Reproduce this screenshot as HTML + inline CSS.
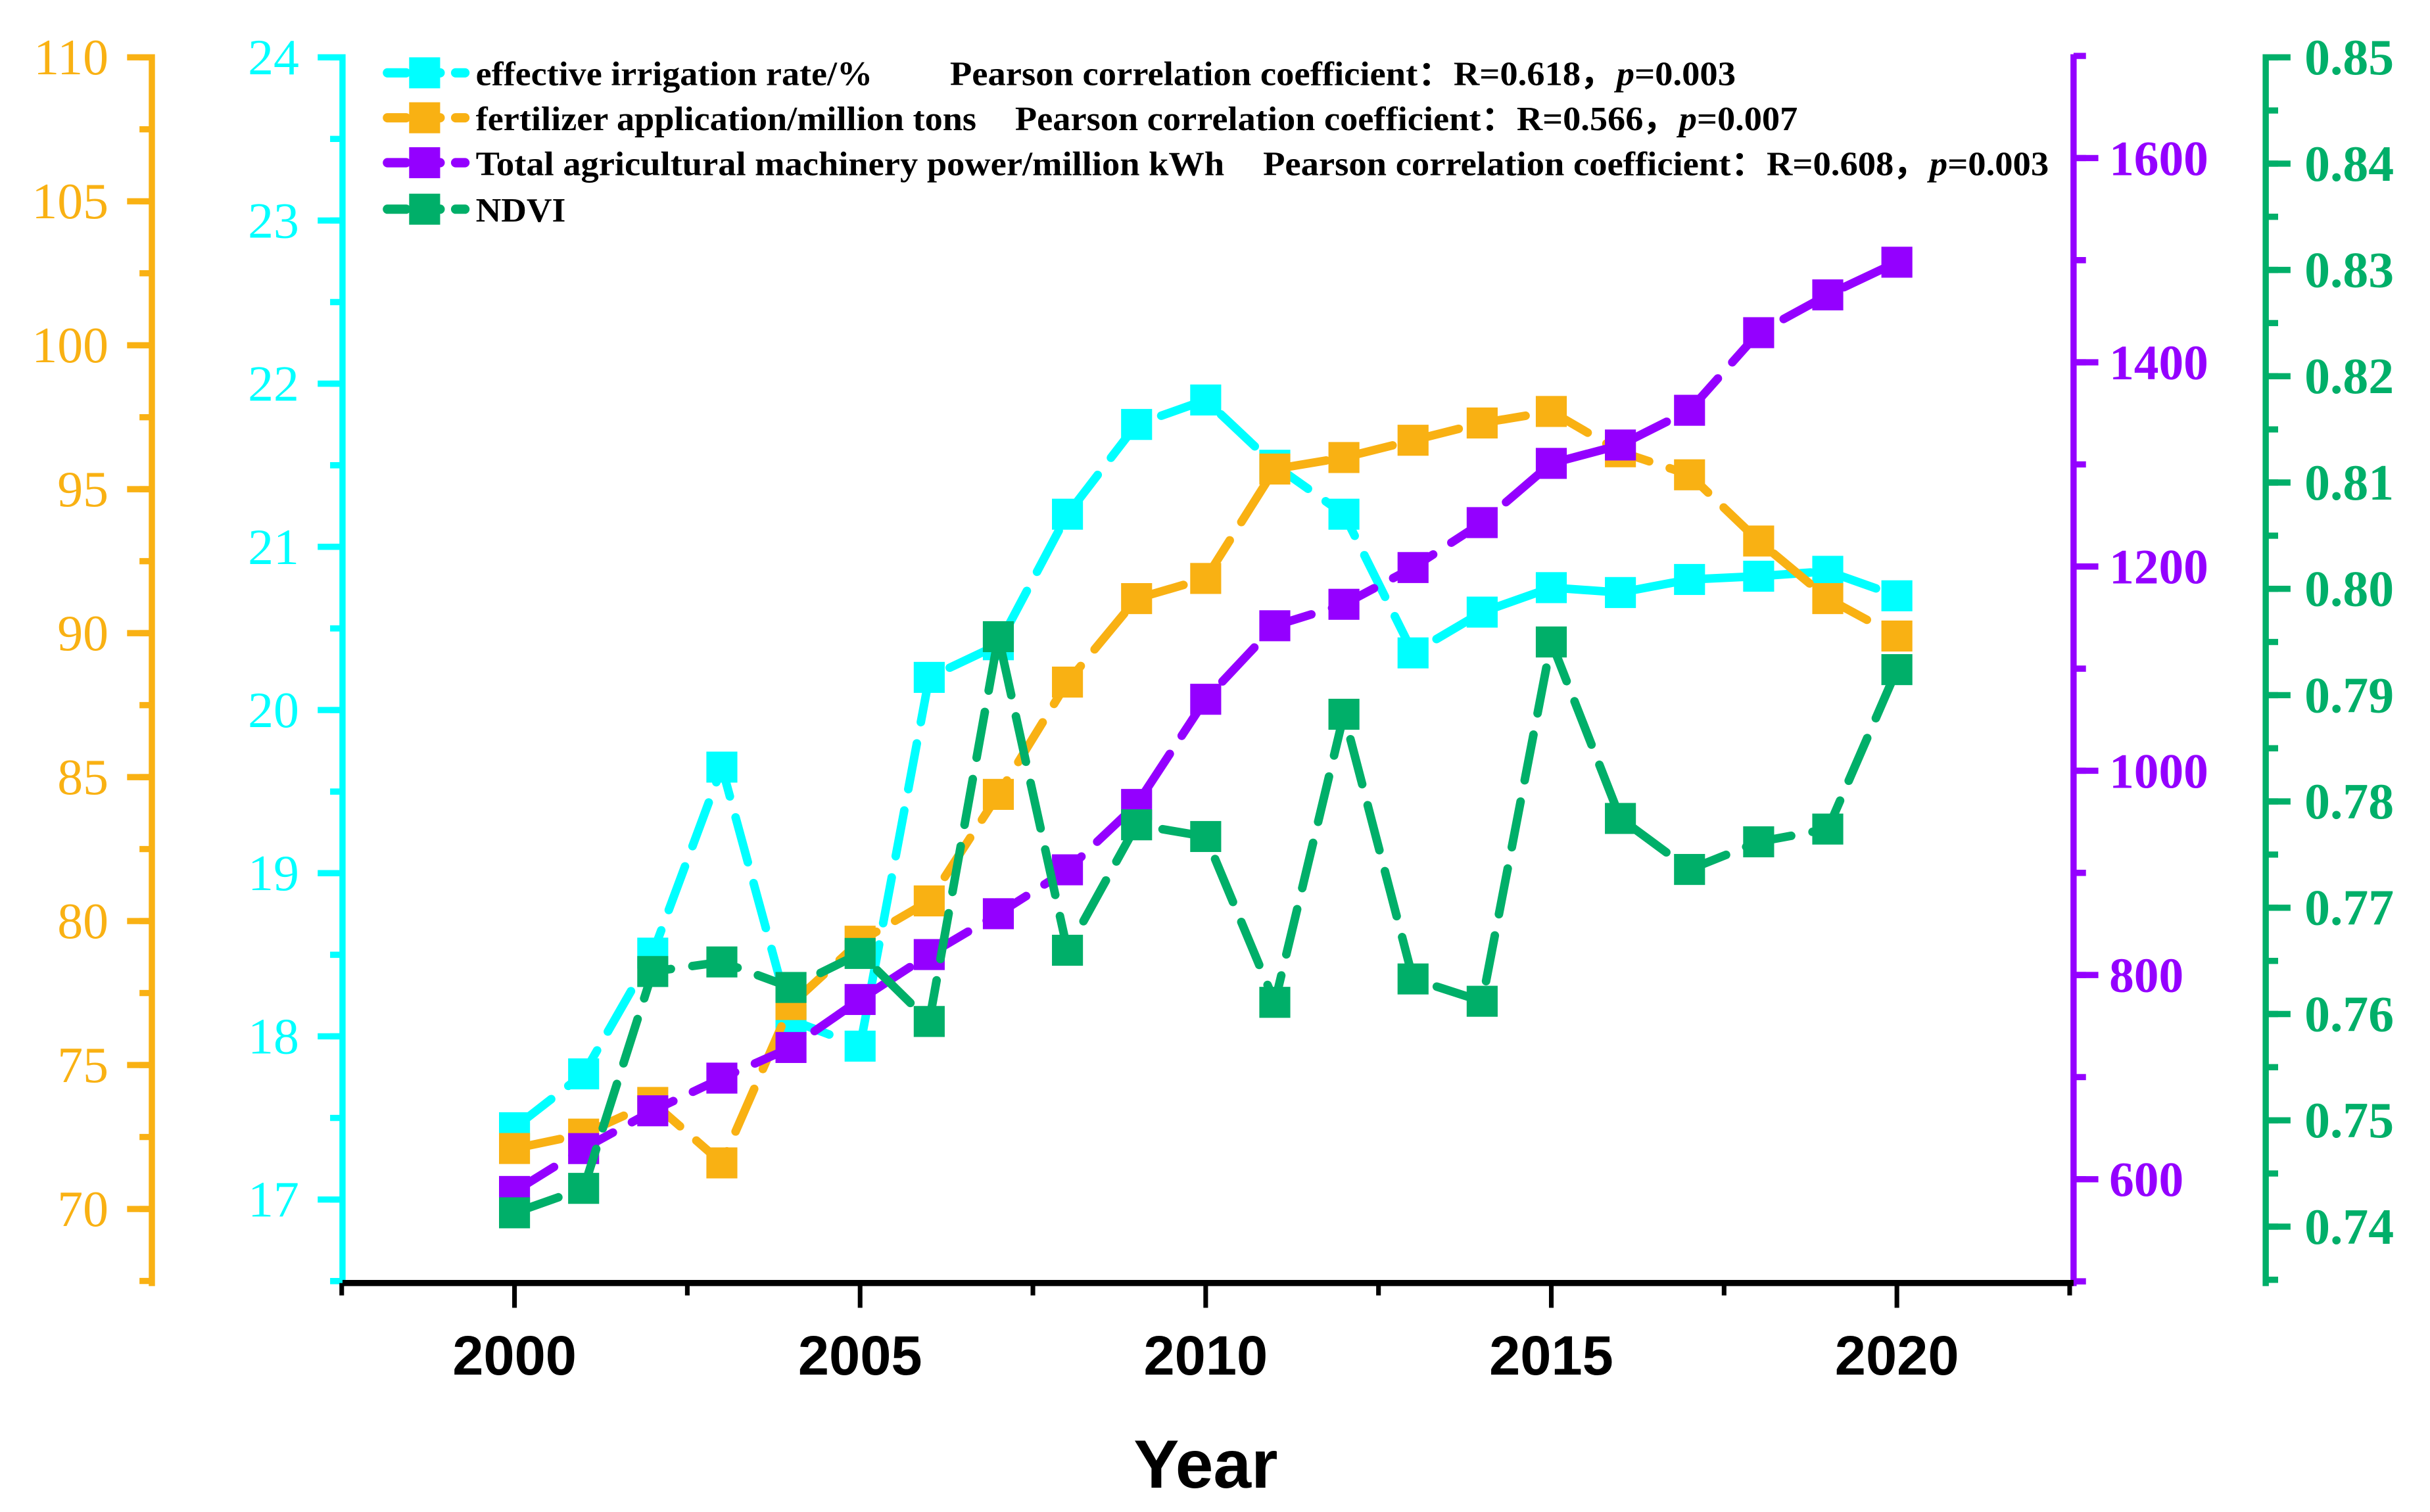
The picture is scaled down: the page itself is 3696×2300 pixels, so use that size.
<!DOCTYPE html>
<html><head><meta charset="utf-8">
<style>
html,body{margin:0;padding:0;background:#fff;}
svg{display:block;}
</style></head>
<body>
<svg id="chart" xmlns="http://www.w3.org/2000/svg" width="3696" height="2300" viewBox="0 0 1568 975.76">
<rect width="1568" height="976" fill="#fff"/>
<g id="axes"></g>
<g id="series"></g>
<g id="legend">
  <g>
    <line x1="250" y1="47" x2="300" y2="47" stroke="#00FFFF" stroke-width="6" stroke-linecap="round" stroke-dasharray="12 10"/>
    <rect x="264" y="37" width="20" height="20" fill="#00FFFF"/>
    <text x="307" y="55" font-family="Liberation Serif, serif" font-weight="bold" font-size="22" textLength="256" lengthAdjust="spacingAndGlyphs">effective irrigation rate/%</text>
    <text x="613" y="55" font-family="Liberation Serif, serif" font-weight="bold" font-size="22" textLength="507" lengthAdjust="spacingAndGlyphs">Pearson correlation coefficient：R=0.618，<tspan font-style="italic">p</tspan>=0.003</text>
  </g>
  <g>
    <line x1="250" y1="76" x2="300" y2="76" stroke="#F9B113" stroke-width="6" stroke-linecap="round" stroke-dasharray="12 10"/>
    <rect x="264" y="66" width="20" height="20" fill="#F9B113"/>
    <text x="307" y="84" font-family="Liberation Serif, serif" font-weight="bold" font-size="22" textLength="323" lengthAdjust="spacingAndGlyphs">fertilizer application/million tons</text>
    <text x="655" y="84" font-family="Liberation Serif, serif" font-weight="bold" font-size="22" textLength="505" lengthAdjust="spacingAndGlyphs">Pearson correlation coefficient：R=0.566，<tspan font-style="italic">p</tspan>=0.007</text>
  </g>
  <g>
    <line x1="250" y1="105" x2="300" y2="105" stroke="#9400FF" stroke-width="6" stroke-linecap="round" stroke-dasharray="12 10"/>
    <rect x="264" y="95" width="20" height="20" fill="#9400FF"/>
    <text x="307" y="113" font-family="Liberation Serif, serif" font-weight="bold" font-size="22" textLength="483" lengthAdjust="spacingAndGlyphs">Total agricultural machinery power/million kWh</text>
    <text x="815" y="113" font-family="Liberation Serif, serif" font-weight="bold" font-size="22" textLength="507" lengthAdjust="spacingAndGlyphs">Pearson correlation coefficient：R=0.608，<tspan font-style="italic">p</tspan>=0.003</text>
  </g>
  <g>
    <line x1="250" y1="135" x2="300" y2="135" stroke="#00AF69" stroke-width="6" stroke-linecap="round" stroke-dasharray="12 10"/>
    <rect x="264" y="125" width="20" height="20" fill="#00AF69"/>
    <text x="307" y="143" font-family="Liberation Serif, serif" font-weight="bold" font-size="22" textLength="58" lengthAdjust="spacingAndGlyphs">NDVI</text>
  </g>
</g>
</svg>
<script>
const years = [2000,2001,2002,2003,2004,2005,2006,2007,2008,2009,2010,2011,2012,2013,2014,2015,2016,2017,2018,2019,2020];
const irrigation = [17.44,17.77,18.51,19.65,18.1,17.94,20.2,20.4,21.2,21.75,21.9,21.5,21.2,20.35,20.6,20.75,20.72,20.8,20.82,20.85,20.7];
const fertilizer = [72.1,72.6,73.7,71.6,77.1,79.3,80.7,84.4,88.3,91.2,91.9,95.7,96.1,96.7,97.3,97.7,96.3,95.5,93.2,91.2,89.9];
const machinery = [588,630,667,699,729,776,820,860,903,967,1070,1142,1163,1199,1243,1301,1319,1353,1429,1466,1498];
const ndvi = [0.7413,0.7436,0.7640,0.7649,0.7625,0.7657,0.7593,0.7955,0.7660,0.7778,0.7767,0.7611,0.7882,0.7633,0.7612,0.7950,0.7784,0.7736,0.7762,0.7774,0.7924];
const xTicks = [2000,2005,2010,2015,2020];
const orangeTicks = [70,75,80,85,90,95,100,105,110];
const cyanTicks = [17,18,19,20,21,22,23,24];
const purpleTicks = [600,800,1000,1200,1400,1600];
const greenTicks = [0.74,0.75,0.76,0.77,0.78,0.79,0.80,0.81,0.82,0.83,0.84,0.85];

const NS='http://www.w3.org/2000/svg';
const OR='#F9B113', CY='#00FFFF', PU='#9400FF', GR='#00AF69';
const TOP=37, BOT=828;
const xS = v => 332 + (v-2000)*44.6;
const yOr = v => 37 + (110-v)*18.58;
const yCy = v => 37 + (24-v)*105.3;
const yPu = v => 102 + (1600-v)*0.659;
const yGr = v => 37 + (0.85-v)*6860;
function mk(tag, attrs, parent){const e=document.createElementNS(NS,tag);for(const k in attrs)e.setAttribute(k,attrs[k]);parent.appendChild(e);return e;}
const axes=document.getElementById('axes');

function vAxis(name,x,color,ticks,scale,dir,minorStep,fmt,bold,labelX,anchor,vmin,vmax,fs){
  const g=mk('g',{},axes);
  
  
  mk('line',{x1:x,y1:TOP-2,x2:x,y2:BOT+2,stroke:color,'stroke-width':4},g);
  for(let v=vmin; v<=vmax+1e-9; v+=minorStep){
    const y=scale(v); if(y<TOP-1||y>BOT+1) continue;
    mk('line',{x1:x,y1:y,x2:x+dir*8,y2:y,stroke:color,'stroke-width':4},g);
  }
  ticks.forEach(t=>{
    const y=scale(t);
    mk('line',{x1:x,y1:y,x2:x+dir*16,y2:y,stroke:color,'stroke-width':4},g);
    const tx=mk('text',{x:labelX,y:y+11,fill:color,'font-family':'Liberation Serif, serif','font-size':fs,'font-weight':bold?'bold':'normal','text-anchor':anchor},g);
    
    
    tx.textContent=fmt(t);
  });
}
vAxis('fertilizer-axis',98,OR,orangeTicks,yOr,-1,2.5,v=>String(v),false,70,'end',67.5,110,33);
vAxis('irrigation-axis',221,CY,cyanTicks,yCy,-1,0.5,v=>String(v),false,193,'end',16.5,24,33);
vAxis('machinery-axis',1338,PU,purpleTicks,yPu,1,100,v=>String(v),true,1361,'start',500,1700,32);
vAxis('ndvi-axis',1462,GR,greenTicks,yGr,1,0.005,v=>v.toFixed(2),true,1487,'start',0.735,0.85,33);

// x axis
const gx=mk('g',{},axes);


mk('line',{x1:221,y1:BOT,x2:1338,y2:BOT,stroke:'#000','stroke-width':4},gx);
for(let v=1997.5; v<=2022.5; v+=2.5){
  const major = Math.abs(v%5)<1e-9;
  mk('line',{x1:xS(v),y1:BOT,x2:xS(v),y2:BOT+(major?16:8),stroke:'#000','stroke-width':3},gx);
}
xTicks.forEach(t=>{
  const tx=mk('text',{x:xS(t),y:887,'text-anchor':'middle','font-family':'Liberation Sans, sans-serif','font-weight':'bold','font-size':36},gx);
  
  
  tx.textContent=t;
});
const xt=mk('text',{x:778,y:960,'text-anchor':'middle','font-family':'Liberation Sans, sans-serif','font-weight':'bold','font-size':44},gx);


xt.textContent='Year';

// series
const sg=document.getElementById('series');
function series(name,vals,scale,color){
  const g=mk('g',{},sg);
  
  
  const pts=vals.map((v,i)=>xS(years[i])+','+scale(v)).join(' ');
  const pl=mk('polyline',{points:pts,fill:'none',stroke:color,'stroke-width':5.5,'stroke-linecap':'round','stroke-linejoin':'round','stroke-dasharray':'30 14'},g);
  
  
  vals.forEach((v,i)=>{
    const r=mk('rect',{x:xS(years[i])-10,y:scale(v)-10,width:20,height:20,fill:color},g);
    
    
  });
}
series('irrigation-series',irrigation,yCy,CY);
series('fertilizer-series',fertilizer,yOr,OR);
series('machinery-series',machinery,yPu,PU);
series('ndvi-series',ndvi,yGr,GR);
</script>
</body></html>
